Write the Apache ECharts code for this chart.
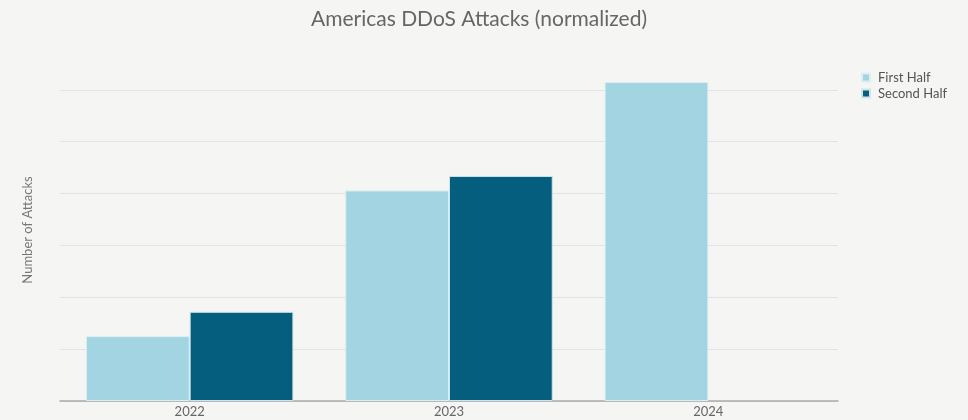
<!DOCTYPE html>
<html>
<head>
<meta charset="utf-8">
<script src="https://cdn.jsdelivr.net/npm/echarts@6/dist/echarts.min.js"></script>
<style>
  html, body { margin: 0; padding: 0; background: #f5f5f4; }
  #chart { width: 968px; height: 420px; }
</style>
</head>
<body>
<div id="chart"></div>
<script>
// Half-year attack counts per year, normalized
const years = ['2022', '2023', '2024'];
const firstHalf = [1.25, 4.06, 6.15];
const secondHalf = [1.72, 4.34, null];
const seriesNames = ['First Half', 'Second Half'];

const FONT = 'Lato, "Noto Sans", sans-serif';

const chart = echarts.init(document.getElementById('chart'), null, { renderer: 'canvas' });

chart.setOption({
  backgroundColor: '#f5f5f4',
  animation: false,
  title: {
    text: 'Americas DDoS Attacks (normalized)',
    left: 306,
    top: 4,
    textStyle: { fontFamily: FONT, fontSize: 21, fontWeight: 'normal', color: '#666' }
  },
  legend: {
    orient: 'vertical',
    left: 856,
    top: 66,
    itemWidth: 8,
    itemHeight: 8,
    itemGap: 3,
    icon: 'rect',
    textStyle: { fontFamily: FONT, fontSize: 13, color: '#555', padding: [0, 0, 0, 3] },
    data: seriesNames
  },
  graphic: [{
    type: 'text',
    x: 28,
    y: 230,
    rotation: Math.PI / 2,
    style: {
      text: 'Number of Attacks',
      font: '13px ' + FONT,
      fill: '#777',
      textAlign: 'center',
      textVerticalAlign: 'middle'
    }
  }],
  grid: { left: 60, right: 130, top: 38, bottom: 19 },
  xAxis: {
    type: 'category',
    data: years,
    axisTick: { show: false },
    axisLine: { lineStyle: { color: '#aaa', width: 1.5 } },
    axisLabel: { fontFamily: FONT, fontSize: 13, color: '#666', margin: 4 }
  },
  yAxis: {
    type: 'value',
    min: 0,
    max: 7,
    interval: 1,
    axisLabel: { show: false },
    axisLine: { show: false },
    axisTick: { show: false },
    splitLine: { showMaxLine: false, lineStyle: { color: '#e2e2e2', width: 1 } }
  },
  series: [
    {
      name: seriesNames[0],
      type: 'bar',
      data: firstHalf,
      barGap: '0%',
      barCategoryGap: '20%',
      itemStyle: { color: '#a2d4e2', borderColor: '#dbeef4', borderWidth: 1 }
    },
    {
      name: seriesNames[1],
      type: 'bar',
      data: secondHalf,
      itemStyle: { color: '#055e7e', borderColor: '#cfe3ea', borderWidth: 1 }
    }
  ]
});
</script>
</body>
</html>
